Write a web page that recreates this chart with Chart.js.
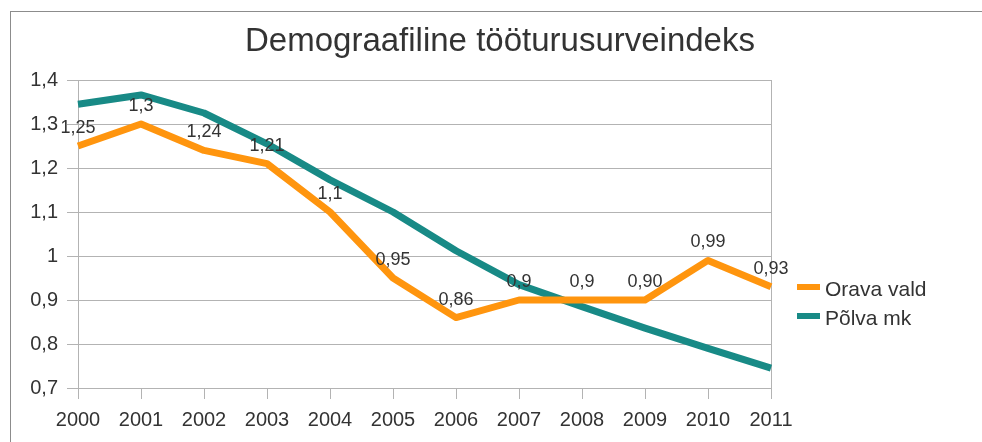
<!DOCTYPE html>
<html>
<head>
<meta charset="utf-8">
<title>Demograafiline tööturusurveindeks</title>
<script src="https://cdn.jsdelivr.net/npm/chart.js@4/dist/chart.umd.min.js"></script>
<style>
  html, body { margin: 0; padding: 0; background: #fff; }
  body { width: 982px; height: 442px; position: relative; overflow: hidden; font-family: "Liberation Sans", Arial, sans-serif; color: #333; }
  #frame { position: absolute; left: 10px; top: 11px; right: -2px; bottom: -2px; border-top: 1px solid #8c8c8c; border-left: 1px solid #8c8c8c; }
  #chart { position: absolute; left: 0; top: 0; }
  #title { position: absolute; left: 18px; width: 964px; top: 20px; line-height: 40px; font-size: 33px; text-align: center; }
  .leg { position: absolute; left: 797px; font-size: 21px; line-height: 29px; height: 29px; }
  .leg span.sw { position: absolute; left: 0; top: 10px; width: 23px; height: 6px; }
  .leg span.tx { position: absolute; left: 28px; top: 0; white-space: nowrap; }
</style>
</head>
<body>
<div id="frame"></div>
<canvas id="chart" width="982" height="442"></canvas>
<div id="title">Demograafiline tööturusurveindeks</div>
<div class="leg" style="top:274px"><span class="sw" style="background:#ff950e"></span><span class="tx">Orava vald</span></div>
<div class="leg" style="top:303px"><span class="sw" style="background:#188a86"></span><span class="tx">Põlva mk</span></div>
<script>
// andmed
const years = ['2000', '2001', '2002', '2003', '2004', '2005', '2006', '2007', '2008', '2009', '2010', '2011'];
const orava = [1.25, 1.30, 1.24, 1.21, 1.10, 0.95, 0.86, 0.90, 0.90, 0.90, 0.99, 0.93];
const oravaLabels = ['1,25', '1,3', '1,24', '1,21', '1,1', '0,95', '0,86', '0,9', '0,9', '0,90', '0,99', '0,93'];
const polva = [1.345, 1.366, 1.325, 1.255, 1.173, 1.10, 1.012, 0.935, 0.885, 0.836, 0.79, 0.745];
const yMin = 0.7, yMax = 1.4, yStep = 0.1;

Chart.defaults.font.family = '"Liberation Sans", Arial, sans-serif';
Chart.defaults.color = '#333';

// v√§√§rtuste sildid Orava joone kohal
const valueLabels = {
  id: 'valueLabels',
  afterDatasetsDraw(chart) {
    const ctx = chart.ctx;
    const meta = chart.getDatasetMeta(0);
    ctx.save();
    ctx.font = '18px "Liberation Sans", Arial, sans-serif';
    ctx.fillStyle = '#333';
    ctx.textAlign = 'center';
    ctx.textBaseline = 'alphabetic';
    meta.data.forEach((pt, i) => {
      ctx.fillText(oravaLabels[i], pt.x, pt.y - 13);
    });
    ctx.restore();
  }
};

const gridColor = '#b3b3b3';

new Chart(document.getElementById('chart'), {
  type: 'line',
  data: {
    labels: years,
    datasets: [{
      label: 'Orava vald',
      data: orava,
      borderColor: '#ff950e',
      borderWidth: 7,
      borderJoinStyle: 'round',
      pointRadius: 0,
      tension: 0
    }, {
      label: 'Põlva mk',
      data: polva,
      borderColor: '#188a86',
      borderWidth: 7,
      borderJoinStyle: 'round',
      pointRadius: 0,
      tension: 0
    }]
  },
  options: {
    responsive: false,
    animation: false,
    devicePixelRatio: 1,
    layout: { padding: { top: 80, right: 211, bottom: 0, left: 0 } },
    plugins: {
      legend: { display: false },
      title: { display: false },
      tooltip: { enabled: false }
    },
    scales: {
      x: {
        offset: false,
        afterFit: s => { s.height = 54; },
        grid: {
          color: c => (c.index === years.length - 1 ? gridColor : 'rgba(0,0,0,0)'),
          tickColor: gridColor,
          tickLength: 11
        },
        border: { color: gridColor },
        ticks: { font: { size: 20 }, color: '#333', padding: 9, maxRotation: 0, autoSkip: false }
      },
      y: {
        min: yMin,
        max: yMax,
        afterFit: s => { s.width = 78; },
        grid: { color: gridColor, tickLength: 11 },
        border: { color: gridColor },
        ticks: {
          stepSize: yStep,
          font: { size: 20 },
          color: '#333',
          padding: 9,
          callback: v => String(Math.round(v * 10) / 10).replace('.', ',')
        }
      }
    }
  },
  plugins: [valueLabels]
});
</script>
</body>
</html>
